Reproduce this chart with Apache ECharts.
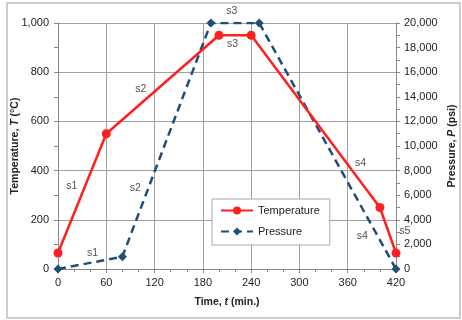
<!DOCTYPE html>
<html><head><meta charset="utf-8">
<script src="https://cdn.jsdelivr.net/npm/echarts@6/dist/echarts.min.js"></script>
<style>html,body{margin:0;padding:0;background:#fff}#c{width:462px;height:320px}</style>
</head><body><div id="c"></div>
<script>
const tempTime = [0, 60, 200, 240, 400, 420];
const tempValues = [65, 550, 950, 950, 250, 65];
const presTime = [0, 80, 190, 250, 420];
const presValues = [0, 1000, 20000, 20000, 0];
const timeTicks = [0, 60, 120, 180, 240, 300, 360, 420];
// segment annotations: [time, temperature-axis value, text]
const tempLabels = [[17, 337, 's1'], [103, 732, 's2'], [217, 915, 's3'], [376, 431, 's4'], [431, 154, 's5']];
// [time, pressure-axis value, text]
const presLabels = [[43, 1300, 's1'], [96, 6585, 's2'], [216, 20976, 's3'], [378, 2683, 's4']];

const FONT = 'Liberation Sans';
const fmt = v => v.toLocaleString('en-US');
const RED = '#ff1f1f', BLUE = '#1f4e79';
const chart = echarts.init(document.getElementById('c'));
const labelSeries = (data, yi) => ({
  type: 'scatter', yAxisIndex: yi, data: data, symbolSize: 1, clip: false, silent: true,
  itemStyle: { color: 'rgba(0,0,0,0)' }, z: 5,
  label: { show: true, position: 'inside', formatter: p => p.data[2], color: '#222', fontSize: 10.5, fontFamily: FONT }
});
chart.setOption({
  animation: false,
  textStyle: { fontFamily: FONT },
  graphic: [{ type: 'rect', shape: { x: 7, y: 3, width: 453, height: 315 }, style: { fill: 'none', stroke: '#bdbdbd', lineWidth: 1.5 }, silent: true }],
  grid: { left: 58, right: 66, top: 23, bottom: 51, outerBoundsMode: 'none', containLabel: false },
  legend: {
    orient: 'vertical', left: 212, top: 199, width: 105,
    backgroundColor: '#fff', borderColor: '#a6a6a6', borderWidth: 1,
    padding: [6, 10, 8, 8], itemGap: 10, itemWidth: 32, itemHeight: 10,
    textStyle: { fontSize: 11, color: '#222', fontFamily: FONT },
    data: ['Temperature', 'Pressure']
  },
  xAxis: {
    type: 'value', min: 0, max: 420, interval: 60,
    name: 'Time, {i|t} (min.)', nameLocation: 'middle', nameGap: 28, nameMoveOverlap: false,
    nameTextStyle: { fontWeight: 'bold', fontSize: 10.5, color: '#222', rich: { i: { fontStyle: 'italic', fontWeight: 'bold', fontSize: 10.5 } } },
    axisLine: { show: true, lineStyle: { color: '#888' } },
    axisTick: { show: true, inside: false, length: 4, lineStyle: { color: '#888' } },
    minorTick: { show: true, splitNumber: 3, length: 3, lineStyle: { color: '#888' } },
    axisLabel: { fontSize: 11, color: '#222', margin: 8 },
    splitLine: { show: true, lineStyle: { color: '#a0a0a0' } }
  },
  yAxis: [{
    type: 'value', min: 0, max: 1000, interval: 200, position: 'left',
    name: 'Temperature, {i|T} (°C)', nameLocation: 'middle', nameGap: 37, nameRotate: 90, nameMoveOverlap: false,
    nameTextStyle: { fontWeight: 'bold', fontSize: 10.5, color: '#222', rich: { i: { fontStyle: 'italic', fontWeight: 'bold', fontSize: 10.5 } } },
    axisLine: { show: true, lineStyle: { color: '#888' } },
    axisTick: { show: true, length: 4, lineStyle: { color: '#888' } },
    minorTick: { show: true, splitNumber: 2, length: 4, lineStyle: { color: '#888' } },
    axisLabel: { fontSize: 11, color: '#222', formatter: fmt, margin: 9 },
    splitLine: { show: true, lineStyle: { color: '#a0a0a0' } }
  }, {
    type: 'value', min: 0, max: 20000, interval: 2000, position: 'right',
    name: 'Pressure, {i|P} (psi)', nameLocation: 'middle', nameGap: 51, nameRotate: 90, nameMoveOverlap: false,
    nameTextStyle: { fontWeight: 'bold', fontSize: 10.5, color: '#222', rich: { i: { fontStyle: 'italic', fontWeight: 'bold', fontSize: 10.5 } } },
    axisLine: { show: true, lineStyle: { color: '#888' } },
    axisTick: { show: true, length: 4, lineStyle: { color: '#888' } },
    minorTick: { show: true, splitNumber: 2, length: 4, lineStyle: { color: '#888' } },
    axisLabel: { fontSize: 11, color: '#222', formatter: fmt, margin: 8 },
    splitLine: { show: false }
  }],
  series: [{
    name: 'Pressure', type: 'line', yAxisIndex: 1, z: 3,
    data: presTime.map((t, i) => [t, presValues[i]]),
    symbol: 'diamond', symbolSize: 9, color: BLUE,
    lineStyle: { color: BLUE, width: 2.5, type: [8, 5] },
    itemStyle: { color: BLUE }
  }, {
    name: 'Temperature', type: 'line', yAxisIndex: 0, z: 4,
    data: tempTime.map((t, i) => [t, tempValues[i]]),
    symbol: 'circle', symbolSize: 9, color: RED,
    lineStyle: { color: RED, width: 2.5 },
    itemStyle: { color: RED }
  },
  labelSeries(tempLabels, 0),
  labelSeries(presLabels, 1)]
});
</script></body></html>
